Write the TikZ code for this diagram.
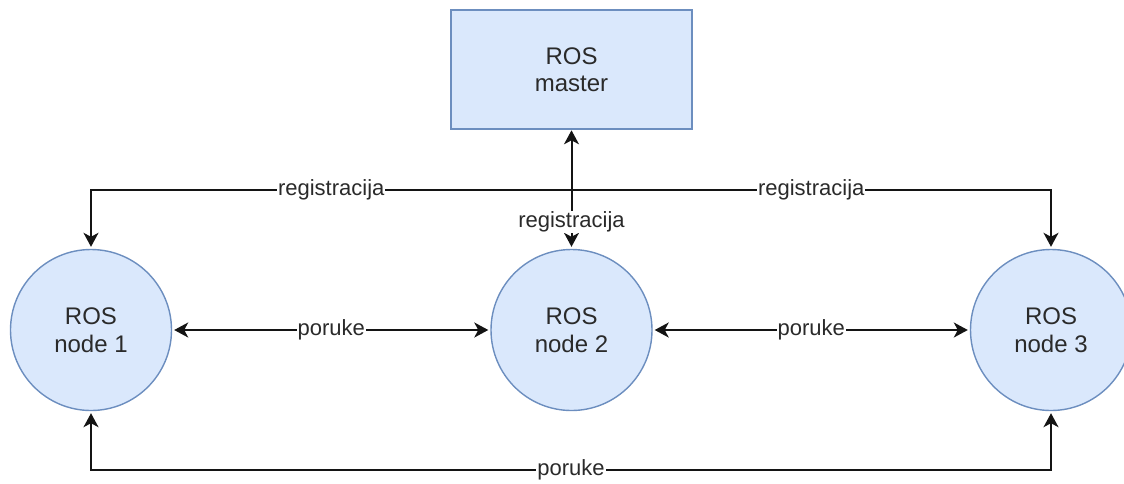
\documentclass[tikz,border=0pt]{standalone}
\usepackage{fontspec}
\setmainfont{Liberation Sans}
\usetikzlibrary{arrows.meta}
\definecolor{boxfill}{HTML}{DAE8FC}
\definecolor{boxline}{HTML}{6C8EBF}
\definecolor{txt}{HTML}{2A2A2A}
\tikzset{
  box/.style={draw=boxline, fill=boxfill, line width=1.6pt, minimum width=241pt, minimum height=119pt, inner sep=0pt, align=center, text=txt, font=\fontsize{24}{27.5}\selectfont},
  rosnode/.style={circle, draw=boxline, fill=boxfill, line width=1.4pt, minimum size=161pt, inner sep=0pt, align=center, text=txt, font=\fontsize{24}{27.5}\selectfont},
  conn/.style={line width=2pt, draw=black!92},
  tip/.style={-{Stealth[length=14pt,width=15pt,inset=4pt]}},
  bitip/.style={{Stealth[length=14pt,width=15pt,inset=4pt]}-{Stealth[length=14pt,width=15pt,inset=4pt]}},
  lbl/.style={fill=white, inner sep=1pt, text=txt, font=\fontsize{22}{24}\selectfont}
}
\begin{document}
\begin{tikzpicture}[x=1pt,y=-1pt]
\useasboundingbox (0,0) rectangle (1124,483);
\node[box] (master) at (571.5,69.5) {ROS\\master};
\node[rosnode] (n1) at (91,330) {ROS\\node 1};
\node[rosnode] (n2) at (571.5,330) {ROS\\node 2};
\node[rosnode] (n3) at (1051,330) {ROS\\node 3};
\coordinate (j) at (571.5,190);
\coordinate (tl) at (91,190);
\coordinate (tr) at (1051,190);
\coordinate (bl) at (91,470);
\coordinate (br) at (1051,470);
% registration edges
\draw[conn,bitip,shorten <=0.5pt,shorten >=2pt] (master.south) -- (n2.north);
\draw[conn,tip,shorten >=2pt] (j) -- (tl) -- (n1.north);
\draw[conn,tip,shorten >=2pt] (j) -- (tr) -- (n3.north);
% message edges
\draw[conn,bitip,shorten <=2pt,shorten >=2pt] (n1.east) -- (n2.west);
\draw[conn,bitip,shorten <=2pt,shorten >=2pt] (n2.east) -- (n3.west);
\draw[conn,bitip,shorten <=2pt,shorten >=2pt] (n1.south) -- (bl) -- (br) -- (n3.south);
% labels
\path (tl) -- (j) node[midway,lbl] (l1) {registracija};
\path (j) -- (tr) node[midway,lbl] (l2) {registracija};
\node[lbl] (l3) at (571.5,222) {registracija};
\path (n1.east) -- (n2.west) node[midway,lbl] (l4) {poruke};
\path (n2.east) -- (n3.west) node[midway,lbl] (l5) {poruke};
\path (bl) -- (br) node[midway,lbl] (l6) {poruke};
\end{tikzpicture}
\end{document}
